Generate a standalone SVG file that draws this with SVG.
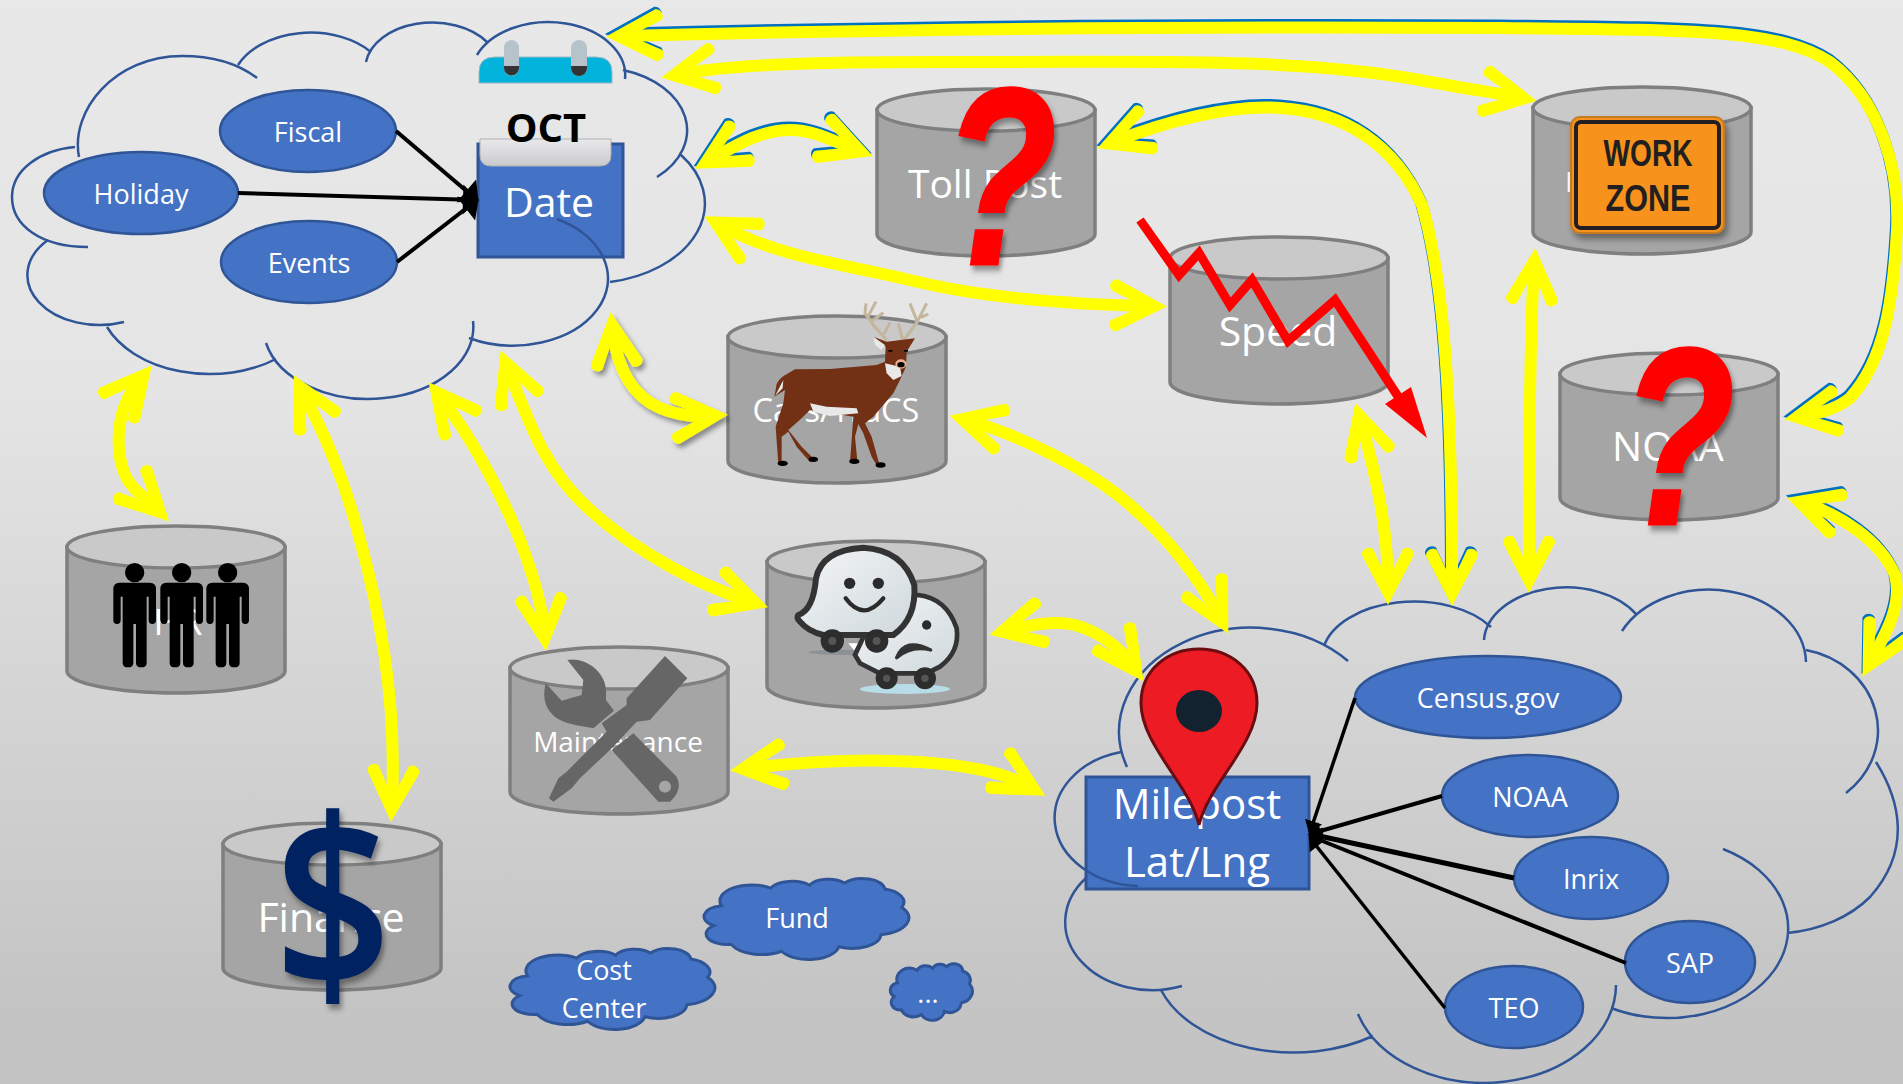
<svg xmlns="http://www.w3.org/2000/svg" width="1903" height="1084" viewBox="0 0 1903 1084">
<style>
text{font-family:"Open Sans","Liberation Sans",sans-serif;fill:#fff;text-anchor:middle}
.oval{fill:#4472c4;stroke:#2f5597;stroke-width:2.500}
.box{fill:#4472c4;stroke:#2f5597;stroke-width:3}
.arc{fill:none;stroke:#2f5597;stroke-width:2.500}
.cy{fill:#a5a5a5;stroke:#7f7f7f;stroke-width:3.500}
.cyt{fill:#c9c9c9;stroke:#7f7f7f;stroke-width:3.500}
.y{fill:none;stroke:#ff0;stroke-width:12;marker-start:url(#my);marker-end:url(#my)}
.b{fill:none;stroke:#0070c0;stroke-width:12;marker-start:url(#mb);marker-end:url(#mb)}
.k{fill:none;stroke:#000;marker-end:url(#mk)}
.k2{fill:none;stroke:#000;marker-end:url(#mk2)}
.q{font-family:"Liberation Sans",sans-serif;font-weight:bold;font-style:italic;fill:#f00;stroke:#f00;stroke-width:3;font-size:252px}
.sc{fill:#4472c4;stroke:#2f5597;stroke-width:3;vector-effect:non-scaling-stroke}
</style>
<defs>
<linearGradient id="bg" x1="0" y1="0" x2="0" y2="1"><stop offset="0" stop-color="#e8e8e8"/><stop offset=".35" stop-color="#e5e5e5"/><stop offset=".93" stop-color="#c4c4c4"/><stop offset="1" stop-color="#c4c4c4"/></linearGradient>
<linearGradient id="fold" x1="0" y1="0" x2="0" y2="1"><stop offset="0" stop-color="#e9e9eb"/><stop offset="1" stop-color="#c9cacc"/></linearGradient>
<linearGradient id="ghost" x1="0" y1="0" x2="1" y2="1"><stop offset="0" stop-color="#f4f6f7"/><stop offset="1" stop-color="#cfd8dc"/></linearGradient>
<filter id="sh" x="-30%" y="-30%" width="160%" height="160%"><feDropShadow dx="3" dy="5" stdDeviation="3" flood-color="#000" flood-opacity=".4"/></filter>
<filter id="sh2" filterUnits="userSpaceOnUse" x="560" y="290" width="210" height="180"><feDropShadow dx="3" dy="4" stdDeviation="2.500" flood-color="#000" flood-opacity=".4"/></filter>
<marker id="my" viewBox="-40 -30 62 60" refX="0" refY="0" markerWidth="62" markerHeight="60" markerUnits="userSpaceOnUse" orient="auto-start-reverse"><path fill="#ff0" d="M20 0L-30-26A7 7 0 0 0-36-15L-4 0L-36 15A7 7 0 0 0-30 26Z"/></marker>
<marker id="mb" viewBox="-40 -30 62 60" refX="0" refY="0" markerWidth="62" markerHeight="60" markerUnits="userSpaceOnUse" orient="auto-start-reverse"><path fill="#0070c0" d="M20 0L-30-26A7 7 0 0 0-36-15L-4 0L-36 15A7 7 0 0 0-30 26Z"/></marker>
<marker id="mk" viewBox="-16 -17 20 34" refX="0" refY="0" markerWidth="20" markerHeight="34" markerUnits="userSpaceOnUse" orient="auto"><path fill="#000" d="M2 0L-14-15L-14 15Z"/></marker>
<marker id="mk2" viewBox="-16 -17 20 34" refX="0" refY="0" markerWidth="20" markerHeight="34" markerUnits="userSpaceOnUse" orient="auto"><path fill="#000" d="M2 0L-11-9L-11 9Z"/></marker>
<g id="cyl"><path class="cy" d="M0 22V146A109 22 0 0 0 218 146V22Z"/><ellipse class="cyt" cx="109" cy="22" rx="109" ry="21"/></g>
<path id="cloud" class="sc" d="M9 33.500A15.500 20 0 0 1 33 11.300A11.500 14.500 0 0 1 52 7.800A10 12.400 0 0 1 69 5A11 14 0 0 1 88.700 12.600A13 17 0 0 1 97 35.500A17 21.500 0 0 1 86.800 69.600A14 18 0 0 1 66.300 84.700A15 19.400 0 0 1 38.300 90.300A16 20.400 0 0 1 13.800 81.700A10.500 13.400 0 0 1 5.200 58.300A10.700 13.700 0 0 1 9 33.500Z"/>
<path id="man" d="M58 98H150Q168 98 168 118V210Q168 222 157 222Q146 222 146 210V140H140V338Q140 352 124 352Q108 352 108 338V222H100V338Q100 352 84 352Q68 352 68 338V140H62V210Q62 222 51 222Q40 222 40 210V118Q40 98 58 98Z"/>
</defs>
<rect id="background" width="1903" height="1084" fill="url(#bg)"/>

<g id="node-date">
<rect class="box" x="478" y="144" width="145" height="113"/>
<path d="M479 83V72Q479 57 495 57H596Q612 57 612 72V83Z" fill="#02b3dc" stroke="#9fb8c0"/>
<rect x="504" y="40" width="15" height="36" rx="7.500" fill="#b7c3cb"/><path d="M504 66H519V68A7.500 7.500 0 0 1 504 68Z" fill="#333"/>
<rect x="571" y="40" width="16" height="36" rx="8" fill="#b7c3cb"/><path d="M571 66H587V68A8 8 0 0 1 571 68Z" fill="#333"/>
<path d="M480 139H611V155Q611 166 600 166H491Q480 166 480 155Z" fill="url(#fold)" stroke="#b0b0b0"/>
<text x="546" y="142" style="fill:#000;font-weight:bold;font-size:40px">OCT</text>
<text x="549" y="217" font-size="41">Date</text>
</g>
<g id="cloud-date">
<path class="arc" d="M79 157C70 110 115 56 182 56C215 56 240 65 257 78M238 65A79 54 0 0 1 371 52M366 62A67 46 0 0 1 487 42M477 55A77 53 0 0 1 625 79M623 70A91 63 0 0 1 657 177M681 155A117 80 0 0 1 610 282M557 219A92 65 0 0 1 469 338M473 321A105 72 0 0 1 266 343M276 359A111 76 0 0 1 107 327M124 322A72 50 0 0 1 48 240M88 247C40 247 12 225 12 197C12 170 40 150 75 147"/>
</g>
<g id="node-fiscal"><ellipse class="oval" cx="308" cy="131" rx="88" ry="41"/><text x="308" y="142" font-size="27">Fiscal</text></g>
<g id="node-holiday"><ellipse class="oval" cx="141" cy="193" rx="97" ry="41"/><text x="141" y="204" font-size="27">Holiday</text></g>
<g id="node-events"><ellipse class="oval" cx="309" cy="262" rx="88" ry="41"/><text x="309" y="273" font-size="27">Events</text></g>

<g id="node-milepost">
<rect class="box" x="1086" y="777" width="223" height="112"/>
<text x="1197" y="819" font-size="42">Milepost</text>
<text x="1197" y="877" font-size="42">Lat/Lng</text>
</g>
<g id="cloud-milepost">
<path class="arc" d="M1127 767A132 104 0 0 1 1348 661M1324 646A92 56 0 0 1 1491 627M1484 640A82 55 0 0 1 1637 615M1622 631A97 74 0 0 1 1806 662M1806 650A90 82 0 0 1 1846 793M1876 762C1900 800 1912 850 1870 897C1850 917 1820 930 1787 933M1723 849A115 85 0 0 1 1611 1008M1616 985A132 98 0 0 1 1358 1014M1373 1036A140 93 0 0 1 1161 990M1182 986A87 68 0 0 1 1086 878M1138 886A87 68 0 0 1 1121 752"/>
</g>
<g id="node-census"><ellipse class="oval" cx="1488" cy="697" rx="133" ry="41"/><text x="1488" y="708" font-size="27">Census.gov</text></g>
<g id="node-noaa-source"><ellipse class="oval" cx="1530" cy="796" rx="88" ry="41"/><text x="1530" y="807" font-size="27">NOAA</text></g>
<g id="node-inrix"><ellipse class="oval" cx="1591" cy="878" rx="77" ry="41"/><text x="1591" y="889" font-size="27">Inrix</text></g>
<g id="node-sap"><ellipse class="oval" cx="1690" cy="962" rx="65" ry="41"/><text x="1690" y="973" font-size="27">SAP</text></g>
<g id="node-teo"><ellipse class="oval" cx="1514" cy="1007" rx="69" ry="41"/><text x="1514" y="1018" font-size="27">TEO</text></g>

<g id="node-toll">
<use href="#cyl" x="877" y="88"/>
<text x="985" y="198" font-size="39">Toll Post</text>
<text class="q" transform="translate(1000 264) scale(.74 1)" filter="url(#sh)">?</text>
</g>
<g id="node-speed">
<use href="#cyl" x="1170" y="236"/>
<text x="1278" y="346" font-size="41">Speed</text>
<polyline points="1140,220 1179,275 1199,253 1230,305 1252,280 1288,341 1335,300 1399,398" fill="none" stroke="#f00" stroke-width="9" stroke-linejoin="miter"/>
<path d="M1427 438L1385 404L1411 387Z" fill="#f00"/>
</g>
<g id="node-workzone">
<use href="#cyl" x="1533" y="86"/>
<text x="1565" y="192" font-size="28" style="text-anchor:start">F</text>
<rect x="1571" y="117" width="153" height="116" rx="9" fill="#f7931e" stroke="#c67a20" stroke-width="2" filter="url(#sh)"/>
<rect x="1576" y="122" width="143" height="106" rx="5" fill="none" stroke="#231f20" stroke-width="4"/>
<text x="1648" y="166" font-size="36" textLength="89" lengthAdjust="spacingAndGlyphs" style="fill:#231f20;font-family:'Liberation Sans',sans-serif;font-weight:bold">WORK</text>
<text x="1648" y="211" font-size="36" textLength="85" lengthAdjust="spacingAndGlyphs" style="fill:#231f20;font-family:'Liberation Sans',sans-serif;font-weight:bold">ZONE</text>
</g>
<g id="node-noaa">
<use href="#cyl" x="1560" y="352"/>
<text x="1668" y="461" font-size="40">NOAA</text>
<text class="q" transform="translate(1678 524) scale(.74 1)" filter="url(#sh)">?</text>
</g>
<g id="node-cars">
<use href="#cyl" x="728" y="315"/>
<text x="836" y="422" font-size="32.500">Cars/TraCS</text>
<g transform="translate(730 290) scale(.3333)">
<path d="M470 150L430 105L405 70L408 40M415 78L438 35M427 92L460 68M462 132L480 98M518 150L505 100M522 150L562 95L540 40M562 95L590 40M573 82L595 72" fill="none" stroke="#c4b69c" stroke-width="9"/>
<path fill="#723014" d="M133 320L140 282Q150 262 170 253L195 238L300 237L440 225L465 215L467 170L430 140L470 155L555 145L530 185L528 230L510 270L490 310L430 380L405 400L425 440L447 518L462 528L440 526L425 500L400 430L385 402L375 440L382 512L388 520L360 516L365 450L370 380L300 368L240 360L215 385L175 420L215 470L255 510L240 516L200 470L175 425L155 440L155 515L167 525L145 522L137 410L160 340L165 300Z"/>
<path fill="#e8e8e8" d="M465 220L510 230L515 258L490 270L470 250ZM240 340L290 350L380 355L385 370L300 378L250 365ZM135 318L160 270L158 295ZM430 140L465 165L455 180L435 165Z"/>
<path fill="#000" d="M475 180h12v5h-12zM522 180h12v5h-12z"/>
<ellipse cx="513" cy="222" rx="17" ry="14" fill="#e8b090"/><ellipse cx="513" cy="224" rx="11" ry="8" fill="#000"/>
<ellipse cx="158" cy="520" rx="15" ry="8"/><ellipse cx="250" cy="508" rx="14" ry="8"/><ellipse cx="373" cy="514" rx="15" ry="8"/><ellipse cx="452" cy="525" rx="15" ry="8"/>
</g>
</g>
<g id="node-waze">
<use href="#cyl" x="767" y="540"/>
<g transform="translate(780 535) scale(.3333)">
<ellipse cx="200" cy="352" rx="115" ry="8" fill="#8a9295"/>
<path d="M205 325H238L222 346Z" fill="#fff"/>
<ellipse cx="375" cy="462" rx="135" ry="15" fill="#b8dde8"/>
<path d="M415 180Q500 190 530 280Q540 350 480 395L440 415H300L240 385L225 360L300 200Z" fill="url(#ghost)" stroke="#333" stroke-width="14"/>
<circle cx="440" cy="270" r="14" fill="#2b2b2b"/>
<path d="M350 368Q375 305 452 345Q395 330 350 368Z" fill="#333" stroke="#333" stroke-width="10" stroke-linejoin="round"/>
<circle cx="320" cy="430" r="33" fill="#2d2d2d"/><circle cx="320" cy="430" r="11" fill="#555"/>
<circle cx="435" cy="430" r="33" fill="#2d2d2d"/><circle cx="435" cy="430" r="11" fill="#555"/>
<path d="M55 240Q100 225 108 130Q125 45 250 38Q370 45 403 150Q410 250 340 300H130Q85 290 60 260Q48 248 55 240Z" fill="url(#ghost)" stroke="#333" stroke-width="18" stroke-linejoin="round"/>
<circle cx="209" cy="145" r="17" fill="#2b2b2b"/><circle cx="295" cy="145" r="17" fill="#2b2b2b"/>
<path d="M197 190Q250 262 310 190" fill="none" stroke="#2b2b2b" stroke-width="13" stroke-linecap="round"/>
<circle cx="157" cy="318" r="35" fill="#2d2d2d"/><circle cx="157" cy="318" r="12" fill="#555"/>
<circle cx="290" cy="318" r="35" fill="#2d2d2d"/><circle cx="290" cy="318" r="12" fill="#555"/>
</g>
</g>
<g id="node-maintenance">
<use href="#cyl" x="510" y="646"/>
<text x="618" y="752" font-size="28">Maintenance</text>
<g transform="translate(530 650) scale(.3333)" fill="#666">
<path d="M112 30C160 20 225 60 228 120L228 150L252 182L205 222L190 235C150 225 90 225 60 185C40 160 40 130 47 100L95 152L155 135L160 90Z"/>
<path fill-rule="evenodd" d="M245 300L310 250L440 380Q460 420 420 455H385ZM405 392a18 18 0 1 0 .1 0Z"/>
<path d="M405 18L472 85L458 100L360 210L320 215L250 290L150 385L125 415L70 455L57 445L85 385L110 365L230 245L215 220L290 165L290 145Z"/>
</g>
</g>
<g id="node-hr">
<use href="#cyl" x="67" y="525"/>
<text x="178" y="635" font-size="36">HR</text>
<g transform="translate(100 550) scale(.3333)"><circle cx="104" cy="68" r="29"/><use href="#man"/><circle cx="245" cy="68" r="29"/><use href="#man" x="141"/><circle cx="383" cy="68" r="29"/><use href="#man" x="279"/></g>
</g>
<g id="node-finance">
<use href="#cyl" x="223" y="822"/>
<text x="331" y="932" font-size="41">Finance</text>
<text transform="translate(333 990) scale(.86 1)" filter="url(#sh)" style="fill:#002060;font-size:240px;font-weight:600">$</text>
</g>

<g id="node-fund"><use href="#cloud" transform="translate(703 879) scale(2.050 .8)"/><text x="797" y="928" font-size="27">Fund</text></g>
<g id="node-cost"><use href="#cloud" transform="translate(509 949) scale(2.050 .8)"/><text x="604" y="980" font-size="27">Cost</text><text x="604" y="1018" font-size="27">Center</text></g>
<g id="node-etc"><use href="#cloud" transform="translate(890 964) scale(.82 .56)"/><text x="928" y="1003" font-size="27">...</text></g>

<g id="connectors">
<g transform="translate(-1 -2.500)">
<path class="b" d="M626 36C850 30 1150 26 1500 28C1700 30 1780 30 1830 62C1880 100 1900 170 1897 230C1893 300 1885 360 1850 398C1838 408 1822 413 1804 416"/>
<path class="b" d="M712 159C735 146 760 130 790 130C815 130 835 142 854 149"/>
<path class="b" d="M1116 141C1165 122 1230 104 1280 108C1345 112 1395 145 1422 205C1447 290 1452 430 1452 586"/>
<path class="b" d="M1806 504C1840 515 1880 540 1895 575C1903 605 1885 635 1872 659"/>
</g>
<path class="y" d="M626 36C850 30 1150 26 1500 28C1700 30 1780 30 1830 62C1880 100 1900 170 1897 230C1893 300 1885 360 1850 398C1838 408 1822 413 1804 416"/>
<path class="y" d="M712 159C735 146 760 130 790 130C815 130 835 142 854 149"/>
<path class="y" d="M1116 141C1165 122 1230 104 1280 108C1345 112 1395 145 1422 205C1447 290 1452 430 1452 586"/>
<path class="y" d="M1806 504C1840 515 1880 540 1895 575C1903 605 1885 635 1872 659"/>
<path class="y" d="M681 74C760 60 900 62 1000 62C1150 62 1300 58 1420 80C1450 86 1490 92 1517 97"/>
<path class="y" d="M1534 268C1530 330 1529 450 1529 573"/>
<path class="y" d="M1361 422C1375 470 1388 530 1388 585"/>
<path class="y" d="M722 226C780 258 850 265 914 281C980 297 1060 304 1147 306"/>
<path class="y" filter="url(#sh2)" d="M613 332C617 365 630 395 660 408C677 415 692 417 708 416"/>
<path class="y" d="M969 421C1020 435 1090 470 1130 505C1170 540 1200 580 1219 616"/>
<path class="y" d="M1009 630C1030 625 1055 620 1075 625C1100 632 1120 648 1132 665"/>
<path class="y" d="M750 768C800 762 860 758 920 762C965 765 1005 773 1028 786"/>
<path class="y" d="M508 369C530 425 545 470 590 510C640 555 700 585 749 601"/>
<path class="y" d="M441 398C470 435 500 490 520 540C533 575 541 600 544 631"/>
<path class="y" d="M303 393C325 435 345 480 360 540C385 630 396 720 392 802"/>
<path class="y" d="M139 381C115 410 115 450 125 475C132 490 145 497 155 507"/>
<line class="k" x1="396" y1="131" x2="477" y2="200" stroke-width="4"/>
<line class="k" x1="238" y1="193" x2="477" y2="200" stroke-width="4"/>
<line class="k" x1="397" y1="262" x2="477" y2="200" stroke-width="4"/>
<line class="k2" x1="1355" y1="698" x2="1310" y2="832" stroke-width="3.500"/>
<line class="k2" x1="1442" y1="796" x2="1310" y2="834" stroke-width="4"/>
<line class="k2" x1="1514" y1="878" x2="1310" y2="834" stroke-width="5"/>
<line class="k2" x1="1626" y1="963" x2="1310" y2="836" stroke-width="4"/>
<line class="k2" x1="1445" y1="1008" x2="1310" y2="838" stroke-width="3.500"/>
</g>
<g id="pin">
<path d="M1199 825C1190 785 1141 745 1141 703C1141 670 1168 649 1199 649C1230 649 1257 670 1257 703C1257 745 1208 785 1199 825Z" fill="#ed1c24" stroke="#6d0c10" stroke-width="3"/>
<ellipse cx="1199" cy="711" rx="23" ry="21" fill="#12222e"/>
</g>
</svg>
